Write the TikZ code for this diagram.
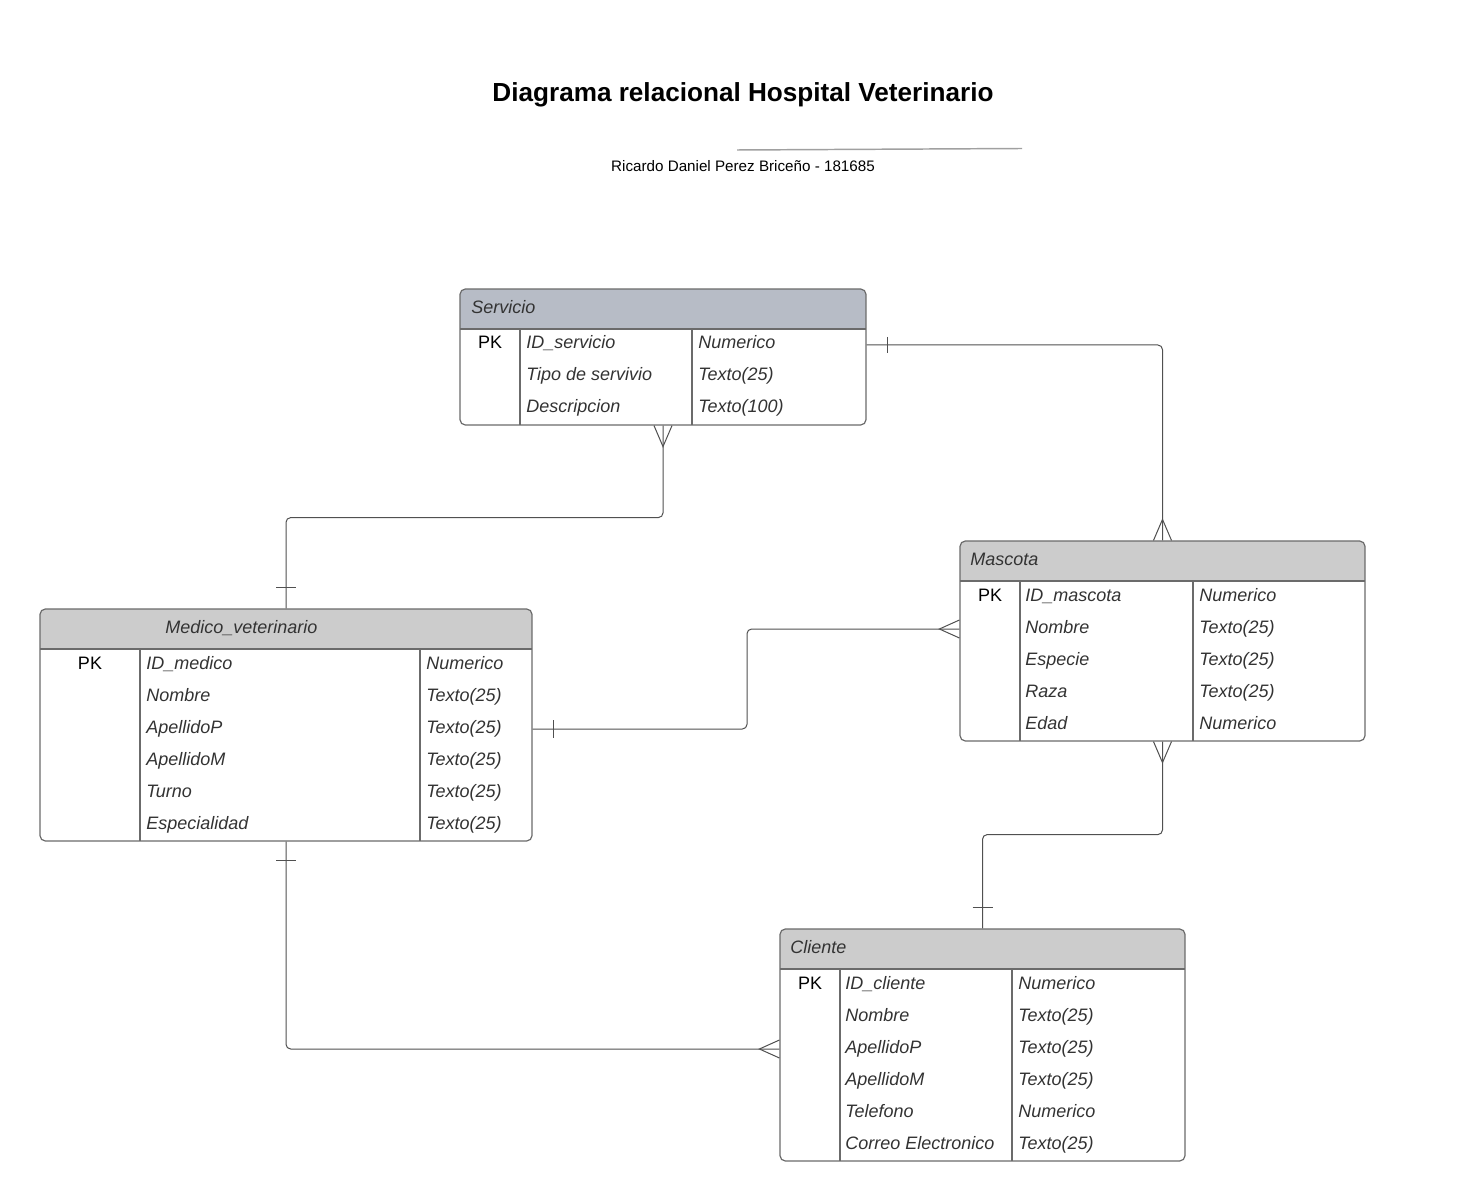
\documentclass[tikz,border=0pt]{standalone}
\usepackage{fontspec}
\setmainfont{Liberation Sans}
\usetikzlibrary{calc,fit}
\definecolor{hdrA}{HTML}{B7BCC6}
\definecolor{hdrB}{HTML}{CCCCCC}
\definecolor{bord}{HTML}{6B6B6B}
\definecolor{conn}{HTML}{505050}
\definecolor{txt}{HTML}{333333}
\definecolor{uline}{HTML}{A0A0A0}
\tikzset{
  tbl/.style={draw=bord, line width=0.9pt, rounded corners=4, inner sep=0pt},
  sep/.style={draw=bord, line width=0.8pt},
  field/.style={anchor=base west, inner sep=0pt, font=\fontsize{13.5}{16}\selectfont\itshape, text=txt},
  hdrtext/.style={anchor=base west, inner sep=0pt, font=\fontsize{13.5}{16}\selectfont\itshape, text=txt},
  pk/.style={anchor=base, inner sep=0pt, font=\fontsize{13.5}{16}\selectfont, text=black},
  link/.style={draw=conn, line width=0.75pt, rounded corners=3.5},
  notation/.style={draw=conn, line width=0.75pt},
}
\newcommand\ertab[8]{%
  \begin{scope}
    \clip[rounded corners=4] (#2,#3) rectangle (#4,#5);
    \fill[#6] (#2,#3) rectangle (#4,#3+40);
  \end{scope}
  \draw[sep] (#2,#3+40) -- (#4,#3+40);
  \draw[sep] (#7,#3+40) -- (#7,#5);
  \draw[sep] (#8,#3+40) -- (#8,#5);
  \node[tbl, fit={(#2,#3) (#4,#5)}] (#1) {};
}
\newcommand\fld[4]{\node[field] (#1) at (#2,#3) {#4};}
\begin{document}
\begin{tikzpicture}[x=0.75pt,y=-0.75pt]
\fill[white] (0,0) rectangle (1481,1201);
\useasboundingbox (0,0) rectangle (1481,1201);

% title
\node[anchor=base, inner sep=0pt, font=\fontsize{19.6}{23}\selectfont\bfseries] (title) at (743,101.5) {Diagrama relacional Hospital Veterinario};
\draw[uline, line width=1.1pt] (737,150) -- (1022,148.5);
\node[anchor=base, inner sep=0pt, font=\fontsize{11.4}{14}\selectfont] (author) at (743,171.5) {Ricardo Daniel Perez Briceño - 181685};

% Servicio
\ertab{serv}{460}{289}{866}{425}{hdrA}{520}{692}
\node[hdrtext] (serv-h) at (471,313.5) {Servicio};
\node[pk] (serv-pk) at (490,349) {PK};
\fld{serv-n1}{526}{349}{ID\_servicio}
\fld{serv-t1}{698}{349}{Numerico}
\fld{serv-n2}{526}{381}{Tipo de servivio}
\fld{serv-t2}{698}{381}{Texto(25)}
\fld{serv-n3}{526}{413}{Descripcion}
\fld{serv-t3}{698}{413}{Texto(100)}

% Mascota
\ertab{mas}{960}{541}{1365}{741}{hdrB}{1020}{1193}
\node[hdrtext] (mas-h) at (970,565.5) {Mascota};
\node[pk] (mas-pk) at (990,601) {PK};
\fld{mas-n1}{1025}{601}{ID\_mascota}
\fld{mas-t1}{1199}{601}{Numerico}
\fld{mas-n2}{1025}{633}{Nombre}
\fld{mas-t2}{1199}{633}{Texto(25)}
\fld{mas-n3}{1025}{665}{Especie}
\fld{mas-t3}{1199}{665}{Texto(25)}
\fld{mas-n4}{1025}{697}{Raza}
\fld{mas-t4}{1199}{697}{Texto(25)}
\fld{mas-n5}{1025}{729}{Edad}
\fld{mas-t5}{1199}{729}{Numerico}

% Medico_veterinario
\ertab{med}{40}{609}{532}{841}{hdrB}{140}{420}
\node[hdrtext] (med-h) at (165,633.5) {Medico\_veterinario};
\node[pk] (med-pk) at (90,669) {PK};
\fld{med-n1}{146}{669}{ID\_medico}
\fld{med-t1}{426}{669}{Numerico}
\fld{med-n2}{146}{701}{Nombre}
\fld{med-t2}{426}{701}{Texto(25)}
\fld{med-n3}{146}{733}{ApellidoP}
\fld{med-t3}{426}{733}{Texto(25)}
\fld{med-n4}{146}{765}{ApellidoM}
\fld{med-t4}{426}{765}{Texto(25)}
\fld{med-n5}{146}{797}{Turno}
\fld{med-t5}{426}{797}{Texto(25)}
\fld{med-n6}{146}{829}{Especialidad}
\fld{med-t6}{426}{829}{Texto(25)}

% Cliente
\ertab{cli}{780}{929}{1185}{1161}{hdrB}{840}{1012}
\node[hdrtext] (cli-h) at (790,953.5) {Cliente};
\node[pk] (cli-pk) at (810,989) {PK};
\fld{cli-n1}{845}{989}{ID\_cliente}
\fld{cli-t1}{1018}{989}{Numerico}
\fld{cli-n2}{845}{1021}{Nombre}
\fld{cli-t2}{1018}{1021}{Texto(25)}
\fld{cli-n3}{845}{1053}{ApellidoP}
\fld{cli-t3}{1018}{1053}{Texto(25)}
\fld{cli-n4}{845}{1085}{ApellidoM}
\fld{cli-t4}{1018}{1085}{Texto(25)}
\fld{cli-n5}{845}{1117}{Telefono}
\fld{cli-t5}{1018}{1117}{Numerico}
\fld{cli-n6}{845}{1149}{Correo Electronico}
\fld{cli-t6}{1018}{1149}{Texto(25)}

% Servicio -- Mascota
\draw[link] (serv.east |- 0,345) -| (mas.north);
\draw[notation] ($(serv.east |- 0,345)+(21,-8)$) -- ++(0,16);
\draw[notation] ($(mas.north)+(-9,0)$) -- ++(9,-21) -- ++(9,21);

% Servicio -- Medico
\draw[link] (serv.south) -- ++(0,92) -| (med.north);
\draw[notation] ($(serv.south)+(-9,0)$) -- ++(9,21) -- ++(9,-21);
\draw[notation] ($(med.north)+(-10,-21)$) -- ++(20,0);

% Medico -- Mascota
\draw[link] (med.east |- 0,729) -- (747,729) -- (747,629) -- (mas.west |- 0,629);
\draw[notation] ($(med.east |- 0,729)+(21,-9)$) -- ++(0,18);
\draw[notation] ($(mas.west |- 0,629)+(0,-9)$) -- ++(-20,9) -- ++(20,9);

% Mascota -- Cliente
\draw[link] (mas.south) -- ++(0,93) -| (cli.north);
\draw[notation] ($(mas.south)+(-9,0)$) -- ++(9,21) -- ++(9,-21);
\draw[notation] ($(cli.north)+(-10,-21)$) -- ++(20,0);

% Medico -- Cliente
\draw[link] (med.south) |- (cli.west |- 0,1049);
\draw[notation] ($(med.south)+(-10,19)$) -- ++(20,0);
\draw[notation] ($(cli.west |- 0,1049)+(0,-9)$) -- ++(-20,9) -- ++(20,9);
\end{tikzpicture}
\end{document}
